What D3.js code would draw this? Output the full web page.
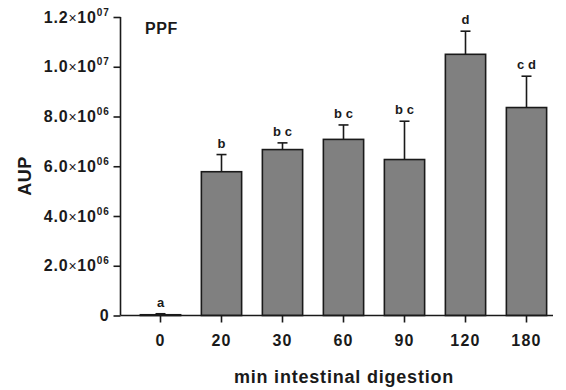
<!DOCTYPE html>
<html>
<head>
<meta charset="utf-8">
<script src="https://cdn.jsdelivr.net/npm/d3@7"></script>
<style>
  body { margin: 0; background: #fff; }
  svg { display: block; font-family: "Liberation Sans", Arial, Helvetica, sans-serif; }
</style>
</head>
<body>
<svg id="chart" width="566" height="390"></svg>
<script>
const categories = ["0", "20", "30", "60", "90", "120", "180"];
const values = [0.03e6, 5.78e6, 6.67e6, 7.08e6, 6.27e6, 10.5e6, 8.36e6];
const errors = [0.04e6, 0.69e6, 0.27e6, 0.58e6, 1.54e6, 0.93e6, 1.26e6];
const letters = ["a", "b", "b c", "b c", "b c", "d", "c d"];
const yTicks = [0, 2e6, 4e6, 6e6, 8e6, 10e6, 12e6];
const yTickMantissa = ["0", "2.0", "4.0", "6.0", "8.0", "1.0", "1.2"];
const yTickExponent = ["", "06", "06", "06", "06", "07", "07"];
const panelLabel = "PPF";
const xTitle = "min intestinal digestion";
const yTitle = "AUP";

const svg = d3.select("#chart");
const axisX = 120.5, y0 = 315.5, yTop = 17, xEnd = 553;
const ink = "#1a1a1a";

const y = d3.scaleLinear().domain([0, 12e6]).range([y0, yTop]);
const x = d3.scaleBand().domain(categories).range([130, 557])
  .paddingInner(0.34).paddingOuter(0.17);

const data = categories.map((c, i) => ({ c, v: values[i], e: errors[i], l: letters[i] }));

// bars
svg.append("g").selectAll("rect").data(data).join("rect")
  .attr("x", d => x(d.c))
  .attr("y", d => y(d.v))
  .attr("width", x.bandwidth())
  .attr("height", d => y0 - y(d.v))
  .attr("fill", "#808080")
  .attr("stroke", ink)
  .attr("stroke-width", 1.6);

// error bars
const eb = svg.append("g").attr("stroke", ink).attr("stroke-width", 1.6);
eb.selectAll("line.v").data(data).join("line").attr("class", "v")
  .attr("x1", d => x(d.c) + x.bandwidth() / 2)
  .attr("x2", d => x(d.c) + x.bandwidth() / 2)
  .attr("y1", d => y(d.v))
  .attr("y2", d => y(d.v + d.e));
eb.selectAll("line.cap").data(data).join("line").attr("class", "cap")
  .attr("x1", d => x(d.c) + x.bandwidth() / 2 - 5)
  .attr("x2", d => x(d.c) + x.bandwidth() / 2 + 5)
  .attr("y1", d => y(d.v + d.e))
  .attr("y2", d => y(d.v + d.e));

// significance letters
svg.append("g").selectAll("text").data(data).join("text")
  .attr("x", d => x(d.c) + x.bandwidth() / 2)
  .attr("y", d => y(d.v + d.e) - 7)
  .attr("text-anchor", "middle")
  .attr("font-size", 13)
  .attr("font-weight", "bold")
  .attr("fill", ink)
  .attr("xml:space", "preserve")
  .style("white-space", "pre")
  .text(d => d.l);

// y axis
const yAxis = d3.axisLeft(y).tickValues(yTicks).tickSize(7).tickFormat(() => "");
const gy = svg.append("g").attr("transform", `translate(${axisX},0)`).call(yAxis);
gy.select(".domain").remove();
gy.selectAll(".tick line").attr("stroke", ink).attr("stroke-width", 1.6);
svg.append("line").attr("x1", axisX).attr("x2", axisX).attr("y1", y(12e6)).attr("y2", y0)
  .attr("stroke", ink).attr("stroke-width", 1.6);

const yl = svg.append("g").selectAll("text").data(yTicks).join("text")
  .attr("x", axisX - 11)
  .attr("y", d => y(d) + 5.5)
  .attr("text-anchor", "end")
  .attr("font-size", 16)
  .attr("font-weight", "bold")
  .attr("letter-spacing", 0.8)
  .attr("fill", ink);
yl.each(function(d, i) {
  const t = d3.select(this);
  if (!yTickExponent[i]) { t.text(yTickMantissa[i]); return; }
  t.append("tspan").text(yTickMantissa[i]);
  t.append("tspan").attr("font-weight", "normal").attr("font-size", 14).text("\u00d7");
  t.append("tspan").text("10");
  t.append("tspan").attr("font-size", 10).attr("dy", -7).text(yTickExponent[i]);
});

// x axis
const xAxis = d3.axisBottom(x).tickSize(7).tickPadding(12);
const gx = svg.append("g").attr("transform", `translate(0,${y0})`).call(xAxis);
gx.select(".domain").remove();
gx.selectAll(".tick line").attr("stroke", ink).attr("stroke-width", 1.6);
gx.selectAll(".tick text").attr("font-size", 16).attr("font-weight", "bold")
  .attr("letter-spacing", 1.2)
  .attr("fill", ink).attr("font-family", "'Liberation Sans', Arial, sans-serif");
svg.append("line").attr("x1", axisX).attr("x2", xEnd).attr("y1", y0).attr("y2", y0)
  .attr("stroke", ink).attr("stroke-width", 1.6);

// titles
svg.append("text").attr("x", 344).attr("y", 383).attr("text-anchor", "middle")
  .attr("font-size", 18).attr("font-weight", "bold").attr("letter-spacing", 0.8)
  .attr("fill", ink).text(xTitle);
svg.append("text").attr("transform", "translate(31,176) rotate(-90)").attr("text-anchor", "middle")
  .attr("font-size", 18).attr("font-weight", "bold").attr("letter-spacing", 0.5)
  .attr("fill", ink).text(yTitle);
svg.append("text").attr("x", 145).attr("y", 34)
  .attr("font-size", 16).attr("font-weight", "bold").attr("letter-spacing", 0.6)
  .attr("fill", ink).text(panelLabel);
</script>
</body>
</html>
